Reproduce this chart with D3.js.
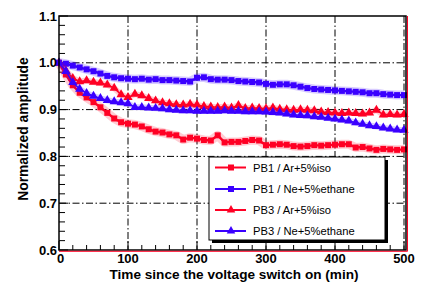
<!DOCTYPE html>
<html><head><meta charset="utf-8">
<script src="https://cdn.jsdelivr.net/npm/d3@7"></script>
<style>body{margin:0;background:#fff;}svg{display:block;font-family:"Liberation Sans",Arial,sans-serif;}</style>
</head><body>
<svg id="c" width="429" height="294"></svg>
<script>
const times = d3.range(0, 501, 10);
const pb1Ar = [1.000,0.975,0.952,0.936,0.926,0.916,0.905,0.893,0.881,0.873,0.870,0.868,0.864,0.858,0.853,0.851,0.847,0.845,0.836,0.840,0.838,0.835,0.834,0.845,0.830,0.831,0.831,0.833,0.835,0.834,0.824,0.825,0.826,0.825,0.822,0.821,0.822,0.824,0.823,0.824,0.825,0.826,0.826,0.819,0.820,0.817,0.814,0.816,0.815,0.814,0.815];
const pb1Ne = [1.000,0.998,0.994,0.990,0.986,0.982,0.977,0.972,0.969,0.967,0.966,0.965,0.966,0.964,0.965,0.963,0.963,0.962,0.961,0.960,0.968,0.969,0.965,0.964,0.964,0.963,0.961,0.960,0.959,0.958,0.955,0.953,0.954,0.954,0.952,0.949,0.946,0.944,0.943,0.942,0.941,0.940,0.939,0.938,0.937,0.935,0.935,0.933,0.932,0.931,0.931];
const pb3Ar = [1.000,0.983,0.967,0.960,0.962,0.959,0.957,0.953,0.946,0.932,0.926,0.933,0.930,0.924,0.919,0.915,0.913,0.911,0.910,0.912,0.910,0.907,0.906,0.905,0.906,0.904,0.909,0.903,0.904,0.903,0.902,0.904,0.901,0.900,0.899,0.900,0.899,0.898,0.895,0.894,0.893,0.892,0.893,0.892,0.891,0.893,0.899,0.889,0.890,0.889,0.890];
const pb3Ne = [1.000,0.982,0.958,0.944,0.935,0.929,0.924,0.920,0.917,0.915,0.913,0.905,0.905,0.904,0.903,0.902,0.900,0.899,0.898,0.898,0.897,0.897,0.897,0.897,0.898,0.897,0.897,0.896,0.896,0.896,0.895,0.894,0.893,0.891,0.889,0.888,0.887,0.885,0.884,0.882,0.880,0.878,0.876,0.872,0.869,0.866,0.864,0.861,0.859,0.857,0.856];
const seriesNames = ["PB1 / Ar+5%iso","PB1 / Ne+5%ethane","PB3 / Ar+5%iso","PB3 / Ne+5%ethane"];
const xTicks = [0,100,200,300,400,500];
const yTicks = [0.6,0.7,0.8,0.9,1.0,1.1];
const yTickLabels = ["0.6","0.7","0.8","0.9","1.0","1.1"];

const RED = "#ff0024", BLUE = "#3a00ff";
const series = [
  {name: seriesNames[0], vals: pb1Ar, color: RED, shape: "square", lw: 2.4},
  {name: seriesNames[1], vals: pb1Ne, color: BLUE, shape: "square", lw: 2.4},
  {name: seriesNames[2], vals: pb3Ar, color: RED, shape: "triangle", lw: 1.6},
  {name: seriesNames[3], vals: pb3Ne, color: BLUE, shape: "triangle", lw: 1.5}
];

const svg = d3.select("#c");
const L = 59, R = 406, T = 16, B = 250;
const x = d3.scaleLinear().domain([0,500]).range([L, 404]);
const y = d3.scaleLinear().domain([0.6,1.1]).range([B, T]);

// grid (dash-dot)
const grid = svg.append("g").attr("stroke","#000").attr("stroke-width",1).attr("stroke-dasharray","7,2.5,1.5,2.5").attr("fill","none");
[100,200,300,400,500].forEach(v => grid.append("line").attr("x1",x(v)).attr("x2",x(v)).attr("y1",T).attr("y2",B));
[0.7,0.8,0.9,1.0].forEach(v => grid.append("line").attr("x1",L).attr("x2",R).attr("y1",y(v)).attr("y2",y(v)));

// ticks
const tk = svg.append("g").attr("stroke","#000").attr("stroke-width",1);
d3.range(0.6,1.1001,0.02).forEach(v => {
  const major = Math.abs(v*10 - Math.round(v*10)) < 1e-6;
  tk.append("line").attr("x1",L).attr("x2",L+(major?9:6)).attr("y1",y(v)).attr("y2",y(v));
});
d3.range(0,501,20).forEach(v => {
  const major = v % 100 === 0;
  tk.append("line").attr("x1",x(v)).attr("x2",x(v)).attr("y1",B).attr("y2",B-(major?9:5));
});

// data
function markerPath(shape, s){
  if (shape === "square") return d3.symbol(d3.symbolSquare, s*s)();
  return d3.symbol(d3.symbolTriangle, s*s*0.75)();
}
series.forEach(sr => {
  const pts = times.map((t,i) => [x(t), y(sr.vals[i])]);
  const g = svg.append("g");
  const line = d3.line();
  g.append("path").attr("d", line(pts)).attr("fill","none").attr("stroke",sr.color).attr("stroke-opacity",0.2).attr("stroke-width",sr.shape==="square"?9:6).attr("stroke-linejoin","round");
  g.append("path").attr("d", line(pts)).attr("fill","none").attr("stroke",sr.color).attr("stroke-width",sr.lw);
  const sz = sr.shape === "square" ? 6 : 7;
  g.selectAll("path.m").data(pts).join("path").attr("class","m")
    .attr("transform", d => `translate(${d[0]},${d[1]})`)
    .attr("d", markerPath(sr.shape, sz)).attr("fill", sr.color);
});

// frame
svg.append("rect").attr("x",L).attr("y",T).attr("width",R-L).attr("height",B-T).attr("fill","none").attr("stroke","#000").attr("stroke-width",1.5);
svg.append("line").attr("x1",L).attr("x2",R+1.5).attr("y1",B+1.3).attr("y2",B+1.3).attr("stroke",RED).attr("stroke-width",1);
svg.append("line").attr("x1",R+1.5).attr("x2",R+1.5).attr("y1",T).attr("y2",B+1.3).attr("stroke",RED).attr("stroke-width",1);

// tick labels
svg.append("g").selectAll("text").data(yTicks).join("text")
  .attr("x", 57).attr("y", d => y(d)+4.5).attr("text-anchor","end")
  .attr("font-size",13).attr("font-weight","bold").text((d,i) => yTickLabels[i]);
svg.append("g").selectAll("text").data(xTicks).join("text")
  .attr("x", d => x(d) + (d===0?1.5:0)).attr("y", 263).attr("text-anchor","middle")
  .attr("font-size",13).attr("font-weight","bold").text(d => d);

// axis titles
svg.append("text").attr("x",234).attr("y",279).attr("text-anchor","middle")
  .attr("font-size",13.6).attr("font-weight","bold").text("Time since the voltage switch on (min)");
svg.append("text").attr("transform","translate(28,129) rotate(-90)").attr("text-anchor","middle")
  .attr("font-size",13.8).attr("font-weight","bold").text("Normalized amplitude");

// legend
const lg = svg.append("g");
lg.append("rect").attr("x",212).attr("y",160).attr("width",176).attr("height",83).attr("fill","#000");
lg.append("rect").attr("x",209).attr("y",157).attr("width",176).attr("height",83).attr("fill","#fff").attr("stroke","#000").attr("stroke-width",1);
const rowsY = [167.5,189,210,231];
series.forEach((sr,i) => {
  const yy = rowsY[i];
  lg.append("line").attr("x1",215).attr("x2",246).attr("y1",yy).attr("y2",yy).attr("stroke",sr.color).attr("stroke-width",2);
  lg.append("path").attr("transform",`translate(231,${yy})`).attr("d", markerPath(sr.shape, sr.shape==="square"?6:6.5)).attr("fill",sr.color);
  lg.append("text").attr("x",253).attr("y",yy+4).attr("font-size",11.2).text(sr.name);
});
</script>
</body></html>
